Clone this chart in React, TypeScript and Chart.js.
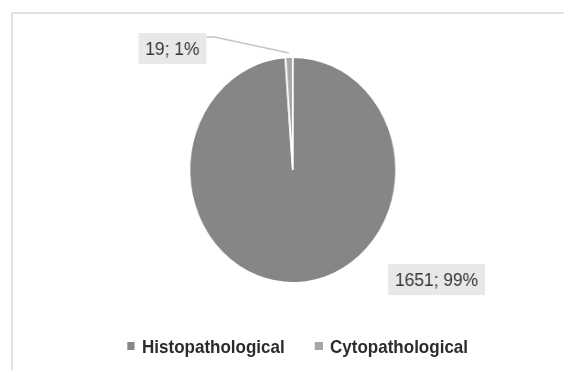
import React, { useEffect, useRef } from "react";
import { Chart, registerables } from "chart.js";

Chart.register(...registerables);

// ---- data ----
const categories: string[] = ["Histopathological", "Cytopathological"];
const counts: number[] = [1651, 19];
const sliceColors: string[] = ["#868686", "#a6a6a6"];

// ---- layout (styles, not data) ----
const SX = 0.915; // reference picture is squeezed horizontally
const W = 616;
const H = 370;

const labelPlugin = {
  id: "sliceLabels",
  afterDatasetsDraw(chart: any) {
    const ctx: CanvasRenderingContext2D = chart.ctx;
    const meta = chart.getDatasetMeta(0);
    const data: number[] = chart.data.datasets[0].data;
    const total = data.reduce((a, b) => a + b, 0);
    const offsets = [
      [1.39, 0.97],
      [-1.165, -1.075],
    ];
    meta.data.forEach((arc: any, i: number) => {
      const p = arc.getProps(["x", "y", "outerRadius", "startAngle", "endAngle"], true);
      const r = p.outerRadius;
      const cx = p.x + offsets[i][0] * r;
      const cy = p.y + offsets[i][1] * r;
      const text = `${data[i]}; ${Math.round((data[i] / total) * 100)}%`;
      ctx.save();
      ctx.font = "19px 'Liberation Sans', Arial, sans-serif";
      const tw = ctx.measureText(text).width;
      const bw = tw + 15;
      const bh = 31;
      if (i === 1) {
        const mid = (p.startAngle + p.endAngle) / 2;
        const ex = p.x + Math.cos(mid) * (r + 4);
        const ey = p.y + Math.sin(mid) * (r + 4);
        const sx = cx + bw / 2;
        const sy = cy - bh / 2 + 4;
        ctx.strokeStyle = "#c4c4c4";
        ctx.lineWidth = 1.6;
        ctx.beginPath();
        ctx.moveTo(sx, sy);
        ctx.lineTo(sx + 9, sy);
        ctx.lineTo(ex, ey);
        ctx.stroke();
      }
      ctx.fillStyle = "#e8e8e8";
      ctx.fillRect(cx - bw / 2, cy - bh / 2, bw, bh);
      ctx.fillStyle = "#363636";
      ctx.textAlign = "center";
      ctx.textBaseline = "middle";
      ctx.fillText(text, cx, cy + 1);
      ctx.restore();
    });
  },
};

export default function App() {
  const canvasRef = useRef<HTMLCanvasElement | null>(null);

  useEffect(() => {
    if (!canvasRef.current) return;
    const chart = new Chart(canvasRef.current, {
      type: "pie",
      data: {
        labels: categories,
        datasets: [
          {
            data: counts,
            backgroundColor: sliceColors,
            borderColor: "#ffffff",
            borderWidth: 2,
          },
        ],
      },
      options: {
        responsive: false,
        animation: false,
        devicePixelRatio: 1,
        layout: { padding: { left: 206, right: 182, top: 56, bottom: 86 } },
        plugins: {
          legend: { display: false },
          tooltip: { enabled: false },
        },
      },
      plugins: [labelPlugin],
    });
    return () => chart.destroy();
  }, []);

  const legendFont: React.CSSProperties = {
    position: "absolute",
    top: 337,
    fontFamily: "'Liberation Sans', Arial, sans-serif",
    fontWeight: "bold",
    fontSize: 18.6,
    lineHeight: "20px",
    color: "#2b2b2b",
    whiteSpace: "nowrap",
  };
  const marker = (left: number, color: string): React.CSSProperties => ({
    position: "absolute",
    left,
    top: 342,
    width: 8.7,
    height: 8,
    background: color,
  });

  return (
    <div
      style={{
        position: "fixed",
        left: 0,
        top: 0,
        width: 564,
        height: 370,
        overflow: "hidden",
        background: "#ffffff",
      }}
    >
      <div
        style={{
          position: "absolute",
          left: 11,
          top: 12,
          width: 620,
          height: 420,
          borderLeft: "2px solid #e2e2e2",
          borderTop: "2px solid #e2e2e2",
        }}
      />
      <div
        style={{
          position: "absolute",
          left: 0,
          top: 0,
          width: W,
          height: H,
          transform: `scaleX(${SX})`,
          transformOrigin: "0 0",
        }}
      >
        <canvas ref={canvasRef} width={W} height={H} style={{ position: "absolute", left: 0, top: 0 }} />
        <div style={marker(138.8, sliceColors[0])} />
        <div style={{ ...legendFont, left: 155.2 }}>{categories[0]}</div>
        <div style={marker(344.3, sliceColors[1])} />
        <div style={{ ...legendFont, left: 360.7 }}>{categories[1]}</div>
      </div>
    </div>
  );
}
